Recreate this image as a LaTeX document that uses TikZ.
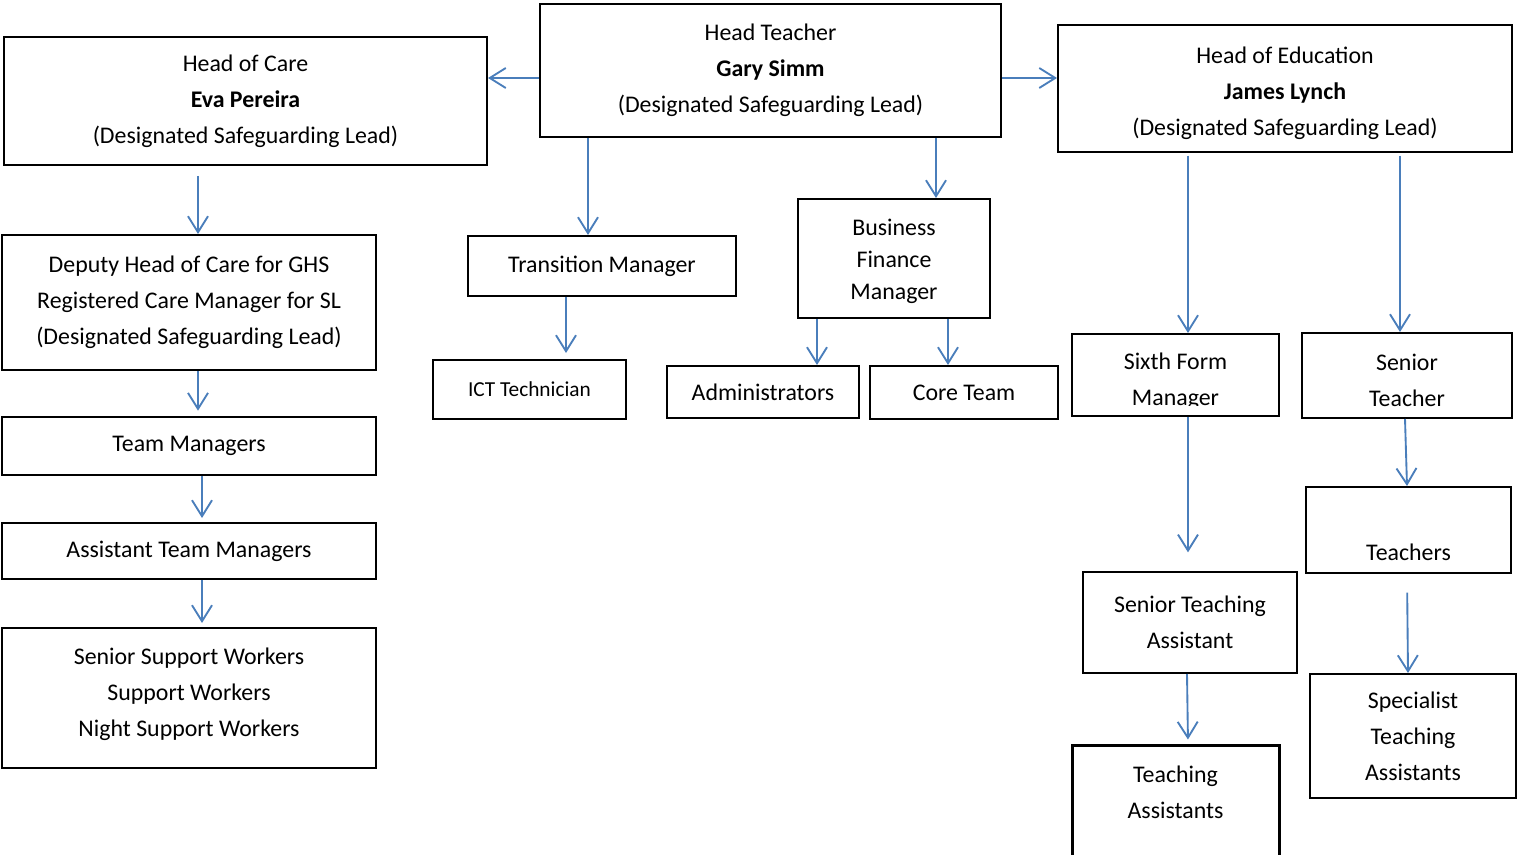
\documentclass[tikz,border=0pt]{standalone}
\usepackage{fontspec}
\setmainfont{Carlito}
\usetikzlibrary{arrows.meta}
\definecolor{linkblue}{RGB}{74,126,187}

\begin{document}
\begin{tikzpicture}[x=0.75pt,y=-0.75pt,
    orgbox/.style={draw=black, line width=1.5pt, inner sep=0pt, align=center,
        font=\fontsize{17.9pt}{27pt}\selectfont},
    boxsize/.style 2 args={minimum width={#1*0.75pt}, minimum height={#2*0.75pt}},
    link/.style={draw=linkblue, line width=1.4pt,
        -{Straight Barb[length=12pt,width=15pt]}}]
    \useasboundingbox (0,0) rectangle (1519,855);

    % draw top row
    \node[orgbox, boxsize={461}{133}] (ht) at (770.5,70.5)
        {Head Teacher\\\textbf{Gary Simm}\\(Designated Safeguarding Lead)};
    \node[orgbox, boxsize={483}{128}] (hc) at (245.5,101)
        {Head of Care\\\textbf{Eva Pereira}\\(Designated Safeguarding Lead)};
    \node[orgbox, boxsize={454}{127}] (he) at (1285,88.5)
        {\strut Head of Education\\\textbf{James Lynch}\\(Designated Safeguarding Lead)};

    % draw care side
    \node[orgbox, boxsize={374}{135}] (dep) at (189,302.5)
        {Deputy Head of Care for GHS\\Registered Care Manager for SL\\(Designated Safeguarding Lead)};
    \node[orgbox, boxsize={374}{58}] (tm) at (189,446) {Team Managers};
    \node[orgbox, boxsize={374}{56}] (atm) at (189,551) {Assistant Team Managers};
    \node[orgbox, boxsize={374}{140}] (ssw) at (189,698)
        {Senior Support Workers\\Support Workers\\Night Support Workers\\[-18pt]~};

    % draw middle
    \node[orgbox, boxsize={268}{60}] (trans) at (602,266) {Transition Manager};
    \node[orgbox, boxsize={193}{59}, font=\fontsize{16pt}{24pt}\selectfont] (ict) at (529.5,389.5)
        {ICT Technician};
    \node[orgbox, boxsize={192}{119}, font=\fontsize{17.9pt}{24pt}\selectfont] (bfm) at (894,258.5)
        {\strut Business\\Finance\\Manager};
    \node[orgbox, boxsize={192}{52}] (adm) at (763,392) {Administrators};
    \node[orgbox, boxsize={188}{53}] (core) at (964,392.5) {Core Team};

    % draw education side
    \node[orgbox, boxsize={207}{82}] (sfm) at (1175.5,375) {};
    \begin{scope}
        \clip (1073,335) rectangle (1278,405);
        \node[orgbox, draw=none] at (1175.5,381) {Sixth Form\\Manager};
    \end{scope}
    \node[orgbox, boxsize={210}{85}] (st) at (1407,375.5) {\strut Senior\\Teacher};
    \node[orgbox, boxsize={214}{101}] (sta) at (1190,622.5) {Senior Teaching\\Assistant};
    \node[orgbox, boxsize={205}{86}] (teach) at (1408.5,530) {\strut\\Teachers};
    \node[orgbox, boxsize={207}{130}, line width=2.25pt] (ta) at (1175.5,810)
        {Teaching\\Assistants\\~};
    \node[orgbox, boxsize={206}{124}] (spec) at (1413,736)
        {Specialist\\Teaching\\Assistants};

    % draw arrows
    \draw[link] (ht.west |- 0,78) -- (hc.east |- 0,78);
    \draw[link] (ht.east |- 0,78) -- (he.west |- 0,78);
    \foreach \a/\b/\x in {ht/trans/588, ht/bfm/936, bfm/adm/817, bfm/core/948}
        \draw[link] (\a.south -| \x,0) -- (\b.north -| \x,0);
    \draw[link, shorten <=7.5pt] (hc.south -| 198,0) -- (dep.north -| 198,0);
    \draw[link, shorten >=4pt] (dep.south -| 198,0) -- (tm.north -| 198,0);
    \draw[link, shorten >=3pt] (tm.south -| 202,0) -- (atm.north -| 202,0);
    \draw[link, shorten >=3pt] (atm.south -| 202,0) -- (ssw.north -| 202,0);
    \draw[link, shorten >=4.5pt] (trans.south -| 566,0) -- (ict.north -| 566,0);
    \draw[link, shorten <=2pt] (he.south -| 1188,0) -- (sfm.north -| 1188,0);
    \draw[link, shorten <=2pt] (he.south -| 1400,0) -- (st.north -| 1400,0);
    \draw[link, shorten >=14pt] (sfm.south -| 1188,0) -- (sta.north -| 1188,0);
    \draw[link, shorten >=3pt] (sta.south -| 1187,0) -- (ta.north -| 1188,0);
    \draw[link] (st.south -| 1405,0) -- (teach.north -| 1407,0);
    \draw[link, shorten <=14pt] (teach.south -| 1407,0) -- (spec.north -| 1408,0);
\end{tikzpicture}
\end{document}
